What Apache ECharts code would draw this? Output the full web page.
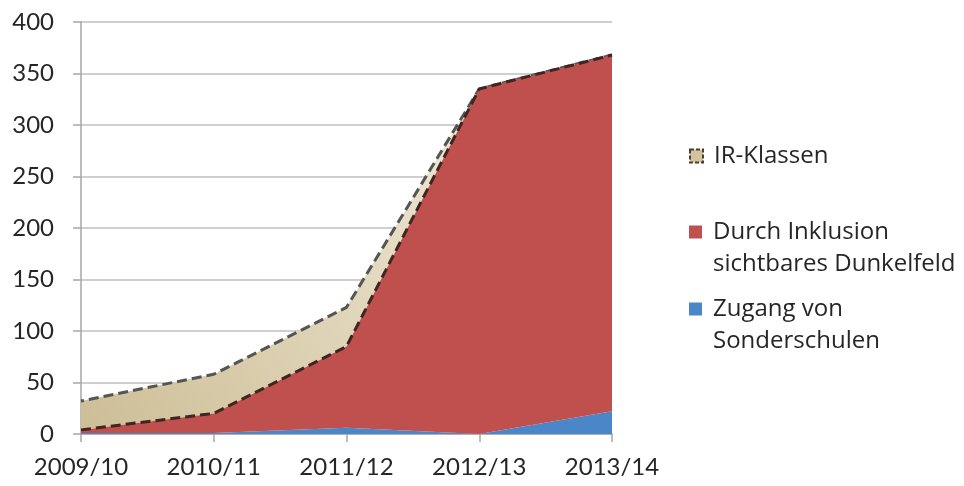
<!DOCTYPE html>
<html>
<head>
<meta charset="utf-8">
<script src="https://cdn.jsdelivr.net/npm/echarts@6/dist/echarts.min.js"></script>
<style>
  html, body { margin: 0; padding: 0; background: #fff; }
  #chart { width: 964px; height: 486px; }
</style>
</head>
<body>
<div id="chart"></div>
<script>
// School years on the x axis
const years = ['2009/10', '2010/11', '2011/12', '2012/13', '2013/14'];
// Stacked components (bottom to top)
const zugangSonderschulen = [1, 1, 6, 0, 22];
const dunkelfeld = [3, 19, 79, 335, 346];
const irKlassen = [28, 38, 38, 0, 0];
// Y axis range
const yMin = 0, yMax = 400, yStep = 50;

const AXIS_FONT = 'Lato';
const LEGEND_FONT = 'Open Sans';
const TEXT = '#262626';

// Legend markers: a 13px square at the top-left of a wider/taller box,
// so the label sits further right and lines up with the first text line.
const ICON_ONE_LINE = 'path://M0 0H13V13H0Z M19 13L19 13.01';
const ICON_TWO_LINES = 'path://M0 0H13V13H0Z M19 45L19 45.01';

const chart = echarts.init(document.getElementById('chart'));

const legendBase = {
  orient: 'vertical',
  left: 689,
  padding: 0,
  selectedMode: false,
  symbolKeepAspect: false,
  textStyle: { fontFamily: LEGEND_FONT, fontSize: 24, color: TEXT }
};

chart.setOption({
  backgroundColor: '#fff',
  animation: false,
  grid: { left: 81, right: 352, top: 22, bottom: 52 },
  xAxis: {
    type: 'category',
    data: years,
    boundaryGap: false,
    axisLine: { lineStyle: { color: '#a6a6a6', width: 1.5 } },
    axisTick: { show: true, length: 8, alignWithLabel: true, lineStyle: { color: '#a6a6a6', width: 1.5 } },
    axisLabel: { fontFamily: AXIS_FONT, fontSize: 24, color: TEXT, margin: 21 },
    splitLine: { show: false }
  },
  yAxis: {
    type: 'value',
    min: yMin, max: yMax, interval: yStep,
    axisLine: { show: true, lineStyle: { color: '#a6a6a6', width: 1.5 } },
    axisTick: { show: true, length: 8, lineStyle: { color: '#a6a6a6', width: 1.5 } },
    axisLabel: { fontFamily: AXIS_FONT, fontSize: 24, color: TEXT, margin: 27 },
    splitLine: { lineStyle: { color: '#bfbfbf', width: 1.5 } }
  },
  legend: [
    Object.assign({}, legendBase, {
      top: 144, itemWidth: 19, itemHeight: 13,
      data: [{
        name: 'IR-Klassen', icon: ICON_ONE_LINE,
        itemStyle: { color: '#d2c4a0', borderColor: '#4a3e30', borderWidth: 2, borderType: [4, 2] }
      }]
    }),
    Object.assign({}, legendBase, {
      top: 216, itemWidth: 19, itemHeight: 45,
      data: [{ name: 'Durch Inklusion sichtbares Dunkelfeld', icon: ICON_TWO_LINES }],
      formatter: () => 'Durch Inklusion\nsichtbares Dunkelfeld',
      textStyle: Object.assign({}, legendBase.textStyle, { lineHeight: 32 })
    }),
    Object.assign({}, legendBase, {
      top: 293, itemWidth: 19, itemHeight: 45,
      data: [{ name: 'Zugang von Sonderschulen', icon: ICON_TWO_LINES }],
      formatter: () => 'Zugang von\nSonderschulen',
      textStyle: Object.assign({}, legendBase.textStyle, { lineHeight: 32 })
    })
  ],
  series: [
    {
      name: 'Zugang von Sonderschulen',
      type: 'line',
      stack: 'total',
      data: zugangSonderschulen,
      symbol: 'none',
      lineStyle: { width: 0 },
      itemStyle: { color: '#4a86c8' },
      areaStyle: { color: '#4a86c8', opacity: 1 },
      z: 3
    },
    {
      name: 'Durch Inklusion sichtbares Dunkelfeld',
      type: 'line',
      stack: 'total',
      data: dunkelfeld,
      symbol: 'none',
      lineStyle: { width: 3, color: '#3f2620', type: [10, 5] },
      itemStyle: { color: '#c0504d' },
      areaStyle: { color: '#c0504d', opacity: 1 },
      z: 5
    },
    {
      name: 'IR-Klassen',
      type: 'line',
      stack: 'total',
      data: irKlassen,
      symbol: 'none',
      lineStyle: { width: 3, color: '#555555', type: [10, 5], dashOffset: 7 },
      itemStyle: { color: '#d9ccaa' },
      areaStyle: {
        opacity: 1,
        color: new echarts.graphic.LinearGradient(0, 1, 1, 0, [
          { offset: 0, color: '#cdbe96' },
          { offset: 1, color: '#f8f4e8' }
        ])
      },
      z: 4
    }
  ]
});
</script>
</body>
</html>
